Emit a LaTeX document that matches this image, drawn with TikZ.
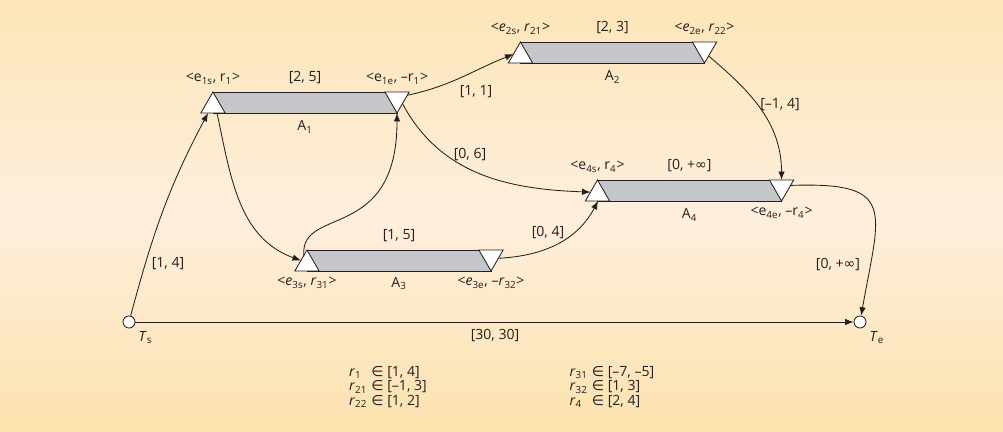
\documentclass[tikz,border=0pt]{standalone}
\usepackage{fontspec}
\setmainfont{Open Sans}
\newfontfamily\dejavu{DejaVu Sans}
\usetikzlibrary{positioning, shapes.geometric, arrows.meta, calc}
\definecolor{BgTop}{RGB}{253,229,183}
\definecolor{BgMid}{RGB}{254,239,221}
\definecolor{BgBot}{RGB}{253,226,174}
\definecolor{BarGray}{RGB}{197,198,202}
\definecolor{InkBlack}{RGB}{35,31,32}

\begin{document}
\begin{tikzpicture}[x=0.025cm, y=0.025cm,
    font=\fontsize{10}{11.5}\selectfont, text=InkBlack,
    >={Latex[length=6pt,width=4.6pt]},
    bar/.style={draw=InkBlack, fill=BarGray, line width=0.6pt, minimum width=4.6cm, minimum height=0.525cm, inner sep=0pt, outer sep=0pt},
    starttri/.style={regular polygon, regular polygon sides=3, minimum size=0.7cm, inner sep=0pt, outer sep=0pt, draw=InkBlack, fill=white, line width=0.6pt},
    endtri/.style={starttri, shape border rotate=180},
    event/.style={circle, draw=InkBlack, fill=white, line width=0.6pt, minimum size=0.3cm, inner sep=0pt},
    link/.style={->, line width=0.6pt, draw=InkBlack}]

    % Background
    \useasboundingbox (0,0) rectangle (1003,432);
    \shade[top color=BgTop, bottom color=BgMid] (0,216) rectangle (1003,432);
    \shade[top color=BgMid, bottom color=BgBot] (0,0) rectangle (1003,216.5);

    % Activity A1
    \node[bar] (a1) at (305,329.5) {};
    \node[starttri, anchor=corner 1] (a1s) at (a1.north west) {};
    \node[endtri, anchor=corner 1] (a1e) at (a1.south east) {};
    \node[above=2pt of a1s.corner 1] (a1sl) {<e\textsubscript{1s}, r\textsubscript{1}>};
    \node[above=2pt of a1.north] (a1d) {[2, 5]};
    \node[above=2pt of a1.north east] (a1el) {<e\textsubscript{1e}, –r\textsubscript{1}>};
    \node[below=2pt of a1.south] (a1n) {A\textsubscript{1}};

    % Activity A2
    \node[bar] (a2) at (612.5,379.5) {};
    \node[starttri, anchor=corner 1] (a2s) at (a2.north west) {};
    \node[endtri, anchor=corner 1] (a2e) at (a2.south east) {};
    \node[above=2pt of a2s.corner 1] (a2sl) {<\textit{e}\textsubscript{2s}, \textit{r}\textsubscript{21}>};
    \node[above=2pt of a2.north] (a2d) {[2, 3]};
    \node[above=2pt of a2.north east] (a2el) {<\textit{e}\textsubscript{2e}, \textit{r}\textsubscript{22}>};
    \node[below=2pt of a2.south] (a2n) {A\textsubscript{2}};

    % Activity A3
    \node[bar] (a3) at (399,171.5) {};
    \node[starttri, anchor=corner 1] (a3s) at (a3.north west) {};
    \node[endtri, anchor=corner 1] (a3e) at (a3.south east) {};
    \node[above=2pt of a3.north] (a3d) {[1, 5]};
    \node[below=1pt of a3.south west] (a3sl) {<\textit{e}\textsubscript{3s}, \textit{r}\textsubscript{31}>};
    \node[below=1pt of a3.south] (a3n) {A\textsubscript{3}};
    \node[below=1pt of a3.south east] (a3el) {<\textit{e}\textsubscript{3e}, –\textit{r}\textsubscript{32}>};

    % Activity A4
    \node[bar] (a4) at (689.5,241.5) {};
    \node[starttri, anchor=corner 1] (a4s) at (a4.north west) {};
    \node[endtri, anchor=corner 1] (a4e) at (a4.south east) {};
    \node[above=2pt of a4s.corner 1] (a4sl) {<e\textsubscript{4s}, r\textsubscript{4}>};
    \node[above=2pt of a4.north] (a4d) {[0, +{\dejavu ∞}]};
    \node[below=1pt of a4.south east] (a4el) {<e\textsubscript{4e}, –r\textsubscript{4}>};
    \node[below=2pt of a4.south] (a4n) {A\textsubscript{4}};

    % Start and end events
    \node[event] (ts) at (129,110) {};
    \node[event] (te) at (860,110) {};
    \node[below right=0pt of ts] (tsl) {\textit{T}\textsubscript{s}};
    \node[below right=0pt of te] (tel) {\textit{T}\textsubscript{e}};

    % Temporal links
    \draw[link] (ts) to[out=75,in=-118] (a1s.-125);
    \draw[link] (ts) -- (te);
    \draw[link] (a1s.-60) to[out=-78,in=160] (a3s.150);
    \draw[link] (a3s.110) .. controls +(-4,50) and +(0,-130) .. (a1e.corner 1);
    \draw[link] (a1e.20) to[out=12,in=-158] (a2s.165);
    \draw[link] (a1e.-40) to[out=-62,in=178] (a4s.165);
    \draw[link] (a3e.-10) to[out=3,in=-118] (a4s.-85);
    \draw[link] (a2e.-60) to[out=-40,in=90] (a4e.90);
    \draw[link] (a4e.10) to[out=2,in=80,looseness=1.85] (te);

    % Link labels
    \node (l14) at (168,168) {[1, 4]};
    \node (l3030) at (495,96) {[30, 30]};
    \node (l11) at (476,340) {[1, 1]};
    \node (l06) at (470,277) {[0, 6]};
    \node (l04) at (548,199) {[0, 4]};
    \node (lm14) at (780,327) {[–1, 4]};
    \node (l0inf) at (838,167) {[0, +{\dejavu ∞}]};

    % Ranges
    \node (legl) at (388,44) {\renewcommand{\arraystretch}{0.9}\begin{tabular}{@{}l@{\hspace{3pt}}l@{}}
      \textit{r}\textsubscript{1} & {\dejavu ∈} [1, 4]\\
      \textit{r}\textsubscript{21} & {\dejavu ∈} [–1, 3]\\
      \textit{r}\textsubscript{22} & {\dejavu ∈} [1, 2]
    \end{tabular}};
    \node (legr) at (612,44) {\renewcommand{\arraystretch}{0.9}\begin{tabular}{@{}l@{\hspace{3pt}}l@{}}
      \textit{r}\textsubscript{31} & {\dejavu ∈} [–7, –5]\\
      \textit{r}\textsubscript{32} & {\dejavu ∈} [1, 3]\\
      \textit{r}\textsubscript{4} & {\dejavu ∈} [2, 4]
    \end{tabular}};
\end{tikzpicture}
\end{document}
